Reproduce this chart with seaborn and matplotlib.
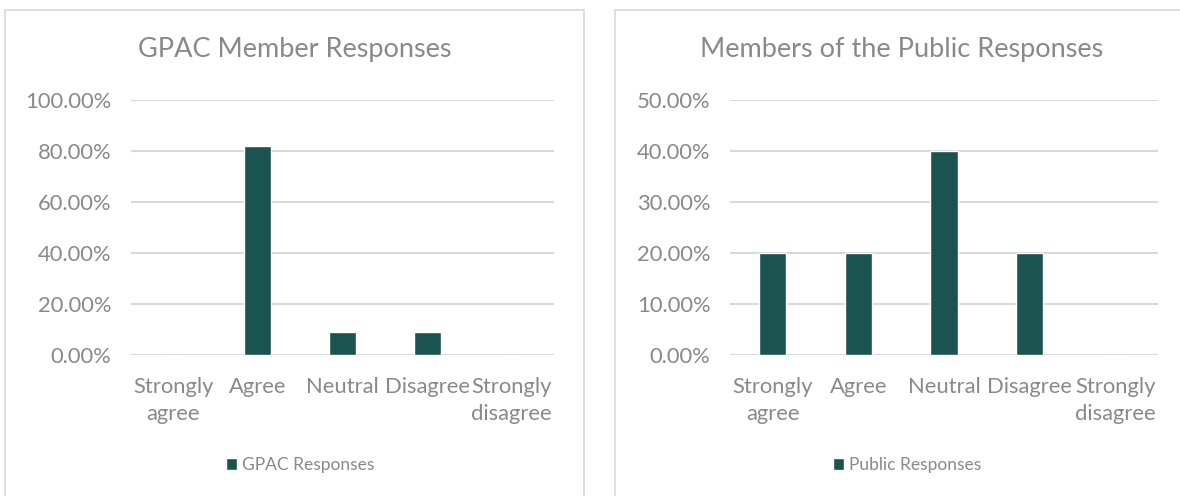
import matplotlib
matplotlib.use("Agg")
import matplotlib.pyplot as plt
from matplotlib.patches import Rectangle
from matplotlib.ticker import FuncFormatter, MultipleLocator
import seaborn as sns
import pandas as pd

categories = ["Strongly agree", "Agree", "Neutral", "Disagree", "Strongly disagree"]
tick_labels = ["Strongly\nagree", "Agree", "Neutral", "Disagree", "Strongly\ndisagree"]
gpac_values = [0.0, 81.82, 9.09, 9.09, 0.0]
public_values = [20.0, 20.0, 40.0, 20.0, 0.0]
titles = ["GPAC Member Responses", "Members of the Public Responses"]
series_names = ["GPAC Responses", "Public Responses"]

sns.set_theme(style="white")
plt.rcParams['font.family'] = ['Lato', 'DejaVu Sans']

BAR = "#1b5351"
TXT = "#898989"
GRID = "#d9d9d9"

W, H = 1180, 496
fig = plt.figure(figsize=(W / 100, H / 100), dpi=100)
fig.patch.set_facecolor("white")

# chart frames
for x0, x1 in [(5, 584), (615, 1196)]:
    fig.add_artist(Rectangle((x0 / W, -0.02), (x1 - x0) / W, 1 - 10 / H + 0.02,
                             transform=fig.transFigure, fill=False,
                             edgecolor=GRID, linewidth=1.2))

panels = [
    dict(vals=gpac_values, ymax=100, step=20, ax=(131, 554), title_x=294.5, leg_x=300),
    dict(vals=public_values, ymax=50, step=10, ax=(730, 1158), title_x=902, leg_x=907),
]

for i, p in enumerate(panels):
    x0, x1 = p["ax"]
    ax = fig.add_axes([x0 / W, (H - 355) / H, (x1 - x0) / W, 255 / H])
    df = pd.DataFrame({"category": categories, "value": p["vals"]})
    sns.barplot(data=df, x="category", y="value", color=BAR, width=0.32,
                saturation=1, ax=ax, label=series_names[i], zorder=3)
    ax.set_ylim(0, p["ymax"])
    ax.set_xlim(-0.5, 4.5)
    ax.yaxis.set_major_locator(MultipleLocator(p["step"]))
    ax.yaxis.set_major_formatter(FuncFormatter(lambda v, _: f"{v:.2f}%"))
    ax.set_xticks(range(len(categories)))
    ax.set_xticklabels(tick_labels, linespacing=1.4)
    ax.set_xlabel("")
    ax.set_ylabel("")
    ax.grid(axis="y", color=GRID, linewidth=1.5, zorder=0)
    ax.grid(axis="x", visible=False)
    for s in ax.spines.values():
        s.set_visible(False)
    ax.tick_params(axis="both", length=0, colors=TXT, labelsize=15.8)
    ax.tick_params(axis="y", pad=14)
    ax.tick_params(axis="x", pad=16)
    ax.set_facecolor("none")
    fig.text(p["title_x"] / W, 1 - 49 / H, titles[i], ha="center", va="center",
             fontsize=19.5, color=TXT)
    leg = ax.legend(loc="center", bbox_to_anchor=(p["leg_x"] / W, 1 - 465 / H),
                    bbox_transform=fig.transFigure, frameon=False,
                    handlelength=0.65, handleheight=0.65, handletextpad=0.3,
                    fontsize=12.5)
    for t in leg.get_texts():
        t.set_color(TXT)

fig.savefig("out.png", dpi=100, facecolor="white")
